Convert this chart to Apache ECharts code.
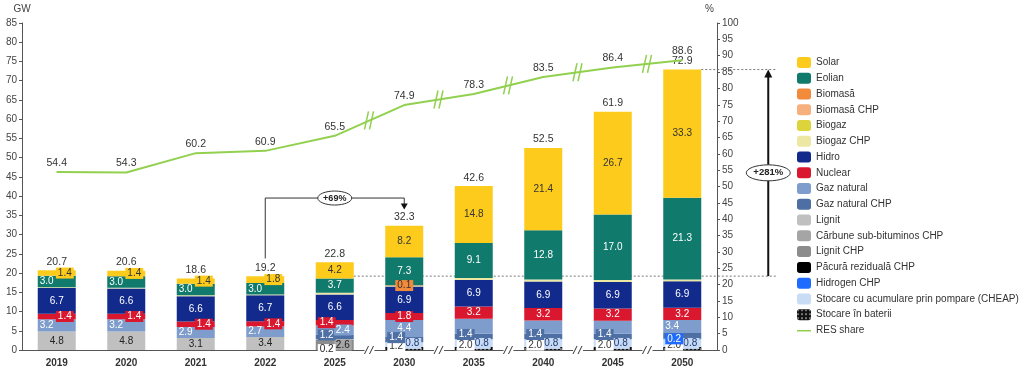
<!DOCTYPE html>
<html lang="ro">
<head>
<meta charset="UTF-8">
<title>Capacitate instalată</title>
<script src="https://cdn.jsdelivr.net/npm/echarts@6/dist/echarts.min.js"></script>
<style>html,body{margin:0;background:#fff}#main{width:1024px;height:375px}</style>
</head>
<body>
<div id="main"></div>
<script>
var FONT = '"Liberation Sans", Arial, sans-serif';

var years = ['2019', '2020', '2021', '2022', '2025', '2030', '2035', '2040', '2045', '2050'];
var gwTicks = [0, 85, 5];
var pctTicks = [0, 100, 5];

var solar      = [1.4, 1.4, 1.4, 1.8, 4.2, 8.2, 14.8, 21.4, 26.7, 33.3];
var eolian     = [3.0, 3.0, 3.0, 3.0, 3.7, 7.3, 9.1, 12.8, 17.0, 21.3];
var biomasa    = [null, null, null, null, null, 0.1, null, null, null, null];
var biomasaCHP = [null, null, null, null, null, null, null, null, null, null];
var biogaz     = [null, null, null, null, null, null, null, null, null, null];
var biogazCHP  = [0.2, 0.2, 0.2, 0.2, 0.5, 0.2, 0.5, 0.5, 0.5, 0.4];
var hidro      = [6.7, 6.6, 6.6, 6.7, 6.6, 6.9, 6.9, 6.9, 6.9, 6.9];
var nuclear    = [1.4, 1.4, 1.4, 1.4, 1.4, 1.8, 3.2, 3.2, 3.2, 3.2];
var gaz        = [3.2, 3.2, 2.9, 2.7, 2.4, 4.4, 3.9, 3.5, 3.4, 3.4];
var gazCHP     = [null, null, null, null, 1.2, 1.4, 1.4, 1.4, 1.4, 1.4];
var lignit     = [4.8, 4.8, 3.1, 3.4, 0.2, null, null, null, null, null];
var carbuneCHP = [null, null, null, null, null, null, null, null, null, null];
var lignitCHP  = [null, null, null, null, 2.6, null, null, null, null, null];
var pacuraCHP  = [null, null, null, null, null, null, null, null, null, null];
var hidrogenCHP= [null, null, null, null, null, null, null, null, null, 0.2];
var pompare    = [null, null, null, null, null, 1.2, 2.0, 2.0, 2.0, 2.0];
var baterii    = [null, null, null, null, null, 0.8, 0.8, 0.8, 0.8, 0.8];
var totals     = [20.7, 20.6, 18.6, 19.2, 22.8, 32.3, 42.6, 52.5, 61.9, 72.9];
var resShare   = [54.4, 54.3, 60.2, 60.9, 65.5, 74.9, 78.3, 83.5, 86.4, 88.6];

// label placement per year: c centre, l left, r right, trailing b = boxed
var stack = [
    {name: 'Stocare în baterii', data: baterii, color: '#111111', text: '#1f3a70', box: '#c6d9f5', place: ['', '', '', '', '', 'rb', 'rb', 'rb', 'rb', 'rb'], dy: -5},
    {name: 'Stocare cu acumulare prin pompare (CHEAP)', data: pompare, color: '#c9dcf5', text: '#333', box: '#ffffff', place: ['', '', '', '', '', 'lb', 'lb', 'lb', 'lb', 'lb'], dy: 2},
    {name: 'Hidrogen CHP', data: hidrogenCHP, color: '#1f6bff', text: '#fff', place: ['', '', '', '', '', '', '', '', '', 'lb'], dy: 0},
    {name: 'Păcură reziduală CHP', data: pacuraCHP, color: '#000000', text: '#fff', place: []},
    {name: 'Lignit CHP', data: lignitCHP, color: '#8c8c8c', text: '#222', box: '#a6a6a6', place: ['', '', '', '', 'rb']},
    {name: 'Cărbune sub-bituminos CHP', data: carbuneCHP, color: '#a5a5a5', text: '#222', place: []},
    {name: 'Lignit', data: lignit, color: '#c0c0c0', text: '#222', box: '#ffffff', place: ['c', 'c', 'c', 'c', 'lb'], dy4: 10},
    {name: 'Gaz natural CHP', data: gazCHP, color: '#4e6fa3', text: '#fff', place: ['', '', '', '', 'lb', 'lb', 'lb', 'lb', 'lb', ''], dy: -2},
    {name: 'Gaz natural', data: gaz, color: '#7f9dcc', text: '#fff', place: ['l', 'l', 'l', 'l', 'rb', 'c', '', '', '', 'l']},
    {name: 'Nuclear', data: nuclear, color: '#d9172e', text: '#fff', place: ['rb', 'rb', 'rb', 'rb', 'lb', 'cb', 'c', 'c', 'c', 'c']},
    {name: 'Hidro', data: hidro, color: '#112a8c', text: '#fff', place: ['c', 'c', 'c', 'c', 'c', 'c', 'c', 'c', 'c', 'c']},
    {name: 'Biogaz CHP', data: biogazCHP, color: '#ece7a2', text: '#333', place: []},
    {name: 'Biogaz', data: biogaz, color: '#dcd43a', text: '#333', place: []},
    {name: 'Biomasă CHP', data: biomasaCHP, color: '#f5b07e', text: '#333', place: []},
    {name: 'Biomasă', data: biomasa, color: '#f28a3c', text: '#333', place: ['', '', '', '', '', 'cb']},
    {name: 'Eolian', data: eolian, color: '#107a6c', text: '#fff', place: ['l', 'l', 'l', 'l', 'c', 'c', 'c', 'c', 'c', 'c']},
    {name: 'Solar', data: solar, color: '#fccb1c', text: '#333', place: ['rb', 'rb', 'rb', 'rb', 'c', 'c', 'c', 'c', 'c', 'c']}
];

function makeLabel(s, i) {
    var code = s.place[i];
    if (!code || s.data[i] == null) return {show: false};
    var pos = code[0] === 'l' ? 'insideLeft' : code[0] === 'r' ? 'insideRight' : 'inside';
    var boxed = code.length > 1;
    var dy = s.dy || 0;
    if (i === 4 && s.dy4) dy = s.dy4;
    return {
        show: true,
        position: pos,
        distance: 2,
        offset: [0, dy],
        color: s.text,
        fontSize: 10,
        fontFamily: FONT,
        backgroundColor: boxed ? (s.box || s.color) : 'transparent',
        padding: boxed ? [1, 2, 0, 2] : 0,
        formatter: function (p) { return p.value.toFixed(1); }
    };
}

var series = stack.map(function (s) {
    var item = {
        name: s.name,
        type: 'bar',
        stack: 'cap',
        barWidth: 38,
        barGap: '-100%',
        itemStyle: {color: s.color},
        emphasis: {disabled: true},
        data: s.data.map(function (v, i) {
            return {value: v, label: makeLabel(s, i)};
        })
    };
    if (s.name === 'Stocare în baterii') {
        item.itemStyle.decal = {symbol: 'rect', symbolSize: 1, color: '#777', dashArrayX: [2, 2], dashArrayY: [2, 2]};
    }
    return item;
});

series.push({
    name: 'Total',
    type: 'bar',
    barWidth: 38,
    barGap: '-100%',
    z: 1,
    itemStyle: {color: 'rgba(0,0,0,0)'},
    label: {show: true, position: 'top', distance: 3, color: '#333', fontSize: 10.5, fontFamily: FONT,
        formatter: function (p) { return p.value.toFixed(1); }},
    data: totals
});

series.push({
    name: 'RES share',
    type: 'line',
    yAxisIndex: 1,
    symbol: 'circle',
    symbolSize: 1,
    z: 5,
    itemStyle: {color: '#92d050'},
    lineStyle: {color: '#92d050', width: 2},
    label: {show: true, position: 'top', distance: 3, color: '#333', fontSize: 10.5, fontFamily: FONT,
        formatter: function (p) { return p.value.toFixed(1); }},
    data: resShare
});

var legendNames = stack.map(function (s) { return s.name; }).reverse();
// thin line icon: tiny corner specks keep the box at full size so the strip stays thin
legendNames.push({
    name: 'RES share',
    icon: 'path://M0,0L0.01,0L0,0.01Z M0,5L14,5L14,6.5L0,6.5Z M0,11L0.01,11L0,10.99Z'
});

var axisLabelStyle = {color: '#444', fontSize: 10, fontFamily: FONT};

var myChart = echarts.init(document.getElementById('main'));

var option = {
    animation: false,
    textStyle: {fontFamily: FONT},
    grid: {left: 22, right: 307, top: 23, bottom: 25},
    legend: {
        orient: 'vertical',
        left: 797,
        top: 57,
        padding: 0,
        itemWidth: 14,
        itemHeight: 11,
        itemGap: 4.76,
        selectedMode: false,
        textStyle: {color: '#333', fontSize: 10, fontFamily: FONT},
        data: legendNames
    },
    xAxis: {
        type: 'category',
        data: years,
        axisLine: {lineStyle: {color: '#555', width: 1}},
        axisTick: {show: false},
        axisLabel: {color: '#333', fontSize: 10, fontWeight: 'bold', fontFamily: FONT, margin: 8}
    },
    yAxis: [{
        type: 'value',
        min: gwTicks[0],
        max: gwTicks[1],
        interval: gwTicks[2],
        name: 'GW',
        nameGap: 9,
        nameTextStyle: {color: '#444', fontSize: 10, fontFamily: FONT},
        axisLine: {show: true, lineStyle: {color: '#555'}},
        axisTick: {show: true, length: 3, lineStyle: {color: '#555'}},
        splitLine: {show: false},
        axisLabel: Object.assign({margin: 5}, axisLabelStyle)
    }, {
        type: 'value',
        min: pctTicks[0],
        max: pctTicks[1],
        interval: pctTicks[2],
        name: '%',
        nameGap: 9,
        nameTextStyle: {color: '#444', fontSize: 10, fontFamily: FONT, align: 'right', padding: [0, 3, 0, 0]},
        axisLine: {show: true, lineStyle: {color: '#555'}},
        axisTick: {show: true, length: 3, lineStyle: {color: '#555'}},
        splitLine: {show: false},
        axisLabel: Object.assign({margin: 5}, axisLabelStyle)
    }],
    series: series
};

myChart.setOption(option);

// annotations built from the axes' own scales
function px(cat, v, yIdx) {
    return myChart.convertToPixel({xAxisIndex: 0, yAxisIndex: yIdx || 0}, [cat, v]);
}

var g = [];
var halfBar = 19;

// break marks between the irregular year steps
for (var i = 4; i < years.length - 1; i++) {
    var a = px(years[i], 0), b = px(years[i + 1], 0);
    var mx = (a[0] + b[0]) / 2, my = a[1];
    g.push({type: 'rect', shape: {x: mx - 5, y: my - 4, width: 10, height: 8}, style: {fill: '#fff'}, z: 50});
    g.push({type: 'line', shape: {x1: mx - 5, y1: my + 4, x2: mx - 1, y2: my - 4}, style: {stroke: '#333', lineWidth: 1}, z: 51});
    g.push({type: 'line', shape: {x1: mx, y1: my + 4, x2: mx + 4, y2: my - 4}, style: {stroke: '#333', lineWidth: 1}, z: 51});

    var la = px(years[i], resShare[i], 1), lb = px(years[i + 1], resShare[i + 1], 1);
    var lx = (la[0] + lb[0]) / 2, ly = (la[1] + lb[1]) / 2;
    g.push({type: 'line', shape: {x1: lx - 5, y1: ly + 9, x2: lx - 1, y2: ly - 9}, style: {stroke: '#92d050', lineWidth: 1.5}, z: 51});
    g.push({type: 'line', shape: {x1: lx, y1: ly + 9, x2: lx + 4, y2: ly - 9}, style: {stroke: '#92d050', lineWidth: 1.5}, z: 51});
}

// +69% bracket from 2022 to 2030
var p22 = px('2022', totals[3] + 4.6);
var pTop = px('2022', 39.5);
var p30 = px('2030', 39.5);
var p30e = px('2030', totals[5] + 4.2);
g.push({type: 'polyline', shape: {points: [[p22[0], p22[1]], [pTop[0], pTop[1]], [p30[0], p30[1]], [p30e[0], p30e[1] - 5]]},
    style: {stroke: '#333', lineWidth: 1, fill: null}, z: 60});
g.push({type: 'polygon', shape: {points: [[p30e[0] - 3.5, p30e[1] - 6], [p30e[0] + 3.5, p30e[1] - 6], [p30e[0], p30e[1]]]},
    style: {fill: '#111'}, z: 60});
var e69x = (pTop[0] + p30[0]) / 2;
g.push({type: 'ellipse', shape: {cx: e69x, cy: pTop[1], rx: 17, ry: 7}, style: {fill: '#fff', stroke: '#333', lineWidth: 1}, z: 61});
g.push({type: 'text', x: e69x, y: pTop[1], style: {text: '+69%', fill: '#222', font: 'bold 9px ' + FONT, align: 'center', verticalAlign: 'middle'}, z: 62});

// +281% arrow from 2022 total to 2050 total
var low = px('2025', totals[3]);
var high = px('2050', totals[9]);
var arrowX = high[0] + 86;
g.push({type: 'line', shape: {x1: low[0] + halfBar, y1: low[1], x2: arrowX + 8, y2: low[1]},
    style: {stroke: '#777', lineWidth: 1, lineDash: [2, 2]}, z: 1});
g.push({type: 'line', shape: {x1: high[0] + halfBar, y1: high[1], x2: arrowX + 8, y2: high[1]},
    style: {stroke: '#777', lineWidth: 1, lineDash: [2, 2]}, z: 1});
g.push({type: 'line', shape: {x1: arrowX, y1: low[1], x2: arrowX, y2: high[1] + 7}, style: {stroke: '#111', lineWidth: 2}, z: 60});
g.push({type: 'polygon', shape: {points: [[arrowX - 4, high[1] + 8], [arrowX + 4, high[1] + 8], [arrowX, high[1]]]}, style: {fill: '#111'}, z: 60});
var midY = (low[1] + high[1]) / 2;
g.push({type: 'ellipse', shape: {cx: arrowX, cy: midY, rx: 22, ry: 8}, style: {fill: '#fff', stroke: '#333', lineWidth: 1}, z: 61});
g.push({type: 'text', x: arrowX, y: midY, style: {text: '+281%', fill: '#222', font: 'bold 9.5px ' + FONT, align: 'center', verticalAlign: 'middle'}, z: 62});

myChart.setOption({graphic: g});
</script>
</body>
</html>
